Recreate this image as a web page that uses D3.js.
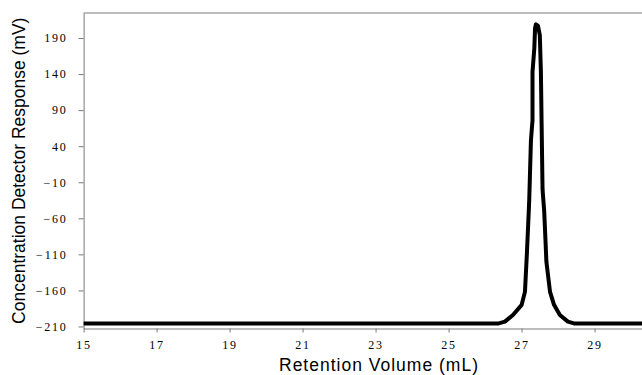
<!DOCTYPE html>
<html>
<head>
<meta charset="utf-8">
<script src="https://cdn.jsdelivr.net/npm/d3@7"></script>
<style>
  html, body { margin: 0; padding: 0; background: #fff; }
  svg { display: block; }
</style>
</head>
<body>
<svg id="chart" width="642" height="375"></svg>
<script>
// Data
const retentionVolume = [15, 17, 19, 21, 23, 25, 26.0, 26.35, 26.545, 26.764, 27.003, 27.093, 27.14, 27.175, 27.21, 27.257, 27.30, 27.30, 27.35, 27.37, 27.394, 27.45, 27.50, 27.53, 27.55, 27.575, 27.62, 27.655, 27.68, 27.78, 27.89, 28.05, 28.27, 28.46, 29, 30, 30.3];
const response        = [-206, -206, -206, -206, -206, -206, -206, -206, -203.3, -194, -180, -162, -115, -76, -35, 48, 76, 143, 176, 204, 209, 207, 194, 143, 69, -20, -50, -90, -120, -162, -180, -194, -203.3, -206, -206, -206, -206];
const xTickValues = [15, 17, 19, 21, 23, 25, 27, 29];
const yTickValues = [-210, -160, -110, -60, -10, 40, 90, 140, 190];
const xTitle = "Retention Volume (mL)";
const yTitle = "Concentration Detector Response (mV)";

const svg = d3.select("#chart");
const mLeft = 83.6, mRight = 642, mTop = 13, mBottom = 328.5;

const x = d3.scaleLinear().domain([15, 30.3]).range([mLeft, mRight]);
const y = d3.scaleLinear().domain([-212.8, 224.7]).range([mBottom, mTop]);

const axisColor = "#7a7a7a";
const tickFont = "'Liberation Serif', 'DejaVu Serif', serif";

// Frame: top line
svg.append("line")
  .attr("x1", mLeft).attr("x2", mRight).attr("y1", mTop).attr("y2", mTop)
  .attr("stroke", axisColor).attr("stroke-width", 1);

// X axis
const xAxis = svg.append("g")
  .attr("transform", `translate(0,${mBottom})`)
  .call(d3.axisBottom(x).tickValues(xTickValues).tickSize(4).tickSizeOuter(0).tickPadding(8)
        .tickFormat(d3.format("d")));
xAxis.select(".domain").attr("stroke", axisColor);
xAxis.selectAll(".tick line").attr("stroke", axisColor);
xAxis.selectAll(".tick text")
  .attr("font-family", tickFont)
  .attr("font-size", 12).attr("letter-spacing", "1.8px").attr("fill", "#000");

// Y axis
const yAxis = svg.append("g")
  .attr("transform", `translate(${mLeft},0)`)
  .call(d3.axisLeft(y).tickValues(yTickValues).tickSize(5).tickSizeOuter(0).tickPadding(11)
        .tickFormat(d3.format("d")));
yAxis.select(".domain").attr("stroke", axisColor);
yAxis.selectAll(".tick line").attr("stroke", axisColor);
yAxis.selectAll(".tick text")
  .attr("font-family", tickFont)
  .attr("font-size", 12).attr("letter-spacing", "1.8px").attr("fill", "#000");

// Clip
svg.append("clipPath").attr("id", "plotclip")
  .append("rect").attr("x", mLeft).attr("y", mTop).attr("width", mRight - mLeft).attr("height", mBottom - mTop);

// Line
const pts = retentionVolume.map((v, i) => [v, response[i]]);
svg.append("path")
  .datum(pts)
  .attr("clip-path", "url(#plotclip)")
  .attr("fill", "none")
  .attr("stroke", "#000")
  .attr("stroke-width", 4)
  .attr("stroke-linejoin", "round")
  .attr("stroke-linecap", "round")
  .attr("d", d3.line().x(d => x(d[0])).y(d => y(d[1])));

// Titles
svg.append("text")
  .attr("x", 379).attr("y", 371)
  .attr("text-anchor", "middle")
  .attr("font-family", "'Liberation Sans', Arial, sans-serif")
  .attr("font-size", 17.5).attr("letter-spacing", "1px").attr("fill", "#000")
  .text(xTitle);

svg.append("text")
  .attr("transform", `translate(25,${(mTop + mBottom) / 2}) rotate(-90)`)
  .attr("text-anchor", "middle")
  .attr("font-family", "'Liberation Sans', Arial, sans-serif")
  .attr("font-size", 17.5).attr("fill", "#000")
  .text(yTitle);
</script>
</body>
</html>
